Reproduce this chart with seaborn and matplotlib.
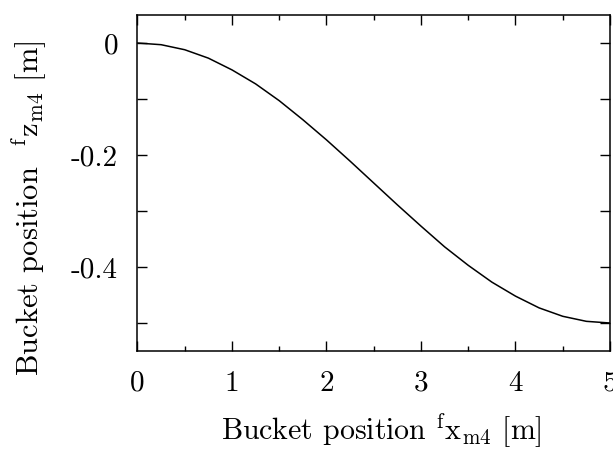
import numpy as np
import pandas as pd
import matplotlib
matplotlib.use("Agg")
import matplotlib.pyplot as plt
import seaborn as sns
from matplotlib.ticker import FixedLocator

# bucket path
x_pos = [0.0, 0.25, 0.5, 0.75, 1.0, 1.25, 1.5, 1.75, 2.0, 2.25, 2.5,
         2.75, 3.0, 3.25, 3.5, 3.75, 4.0, 4.25, 4.5, 4.75, 5.0]
z_pos = [0.0, -0.003, -0.012, -0.027, -0.048, -0.073, -0.103, -0.137,
         -0.173, -0.211, -0.25, -0.289, -0.327, -0.364, -0.397, -0.427,
         -0.452, -0.473, -0.488, -0.497, -0.5]

x_ticks = [0, 1, 2, 3, 4, 5]
x_minor = [0.5, 1.5, 2.5, 3.5, 4.5]
y_ticks = [0, -0.2, -0.4]
y_minor = [-0.1, -0.3, -0.5]
y_labels = ["0", "-0.2", "-0.4"]

df = pd.DataFrame({"x": x_pos, "z": z_pos})

sns.set_theme(style="ticks")
plt.rcParams["font.family"] = ["cmr10", "DejaVu Serif"]
plt.rcParams["mathtext.fontset"] = "cm"

fig = plt.figure(figsize=(6.13, 4.51), dpi=100)
ax = fig.add_axes([0.2243, 0.2217, 0.9951 - 0.2243, 0.9667 - 0.2217])

sns.lineplot(data=df, x="x", y="z", ax=ax, color="black", linewidth=1.1)

ax.set_xlim(0, 5)
ax.set_ylim(-0.55, 0.05)

ax.xaxis.set_major_locator(FixedLocator(x_ticks))
ax.xaxis.set_minor_locator(FixedLocator(x_minor))
ax.yaxis.set_major_locator(FixedLocator(y_ticks))
ax.yaxis.set_minor_locator(FixedLocator(y_minor))
ax.set_xticklabels([str(t) for t in x_ticks])
ax.set_yticklabels(y_labels)

ax.tick_params(which="both", direction="in", top=True, right=True,
               colors="black", width=1.0)
ax.tick_params(axis="x", which="major", length=7.2, pad=14, labelsize=21)
ax.tick_params(axis="x", which="minor", length=3.6)
ax.tick_params(axis="y", which="both", length=7.2)
ax.tick_params(axis="y", which="major", pad=14, labelsize=21)

for sp in ax.spines.values():
    sp.set_linewidth(1.1)
    sp.set_color("black")

ax.set_xlabel(r"Bucket position ${}^{\mathrm{f}}\mathrm{x}_{\mathrm{m4}}$ [m]",
              fontsize=21.5, color="black")
ax.set_ylabel(r"Bucket position  ${}^{\mathrm{f}}\mathrm{z}_{\mathrm{m4}}$ [m]",
              fontsize=22, color="black")
ax.xaxis.set_label_coords(0.515, -0.18)
ax.yaxis.set_label_coords(-0.19, 0.425)

fig.savefig("out.png", dpi=100)
